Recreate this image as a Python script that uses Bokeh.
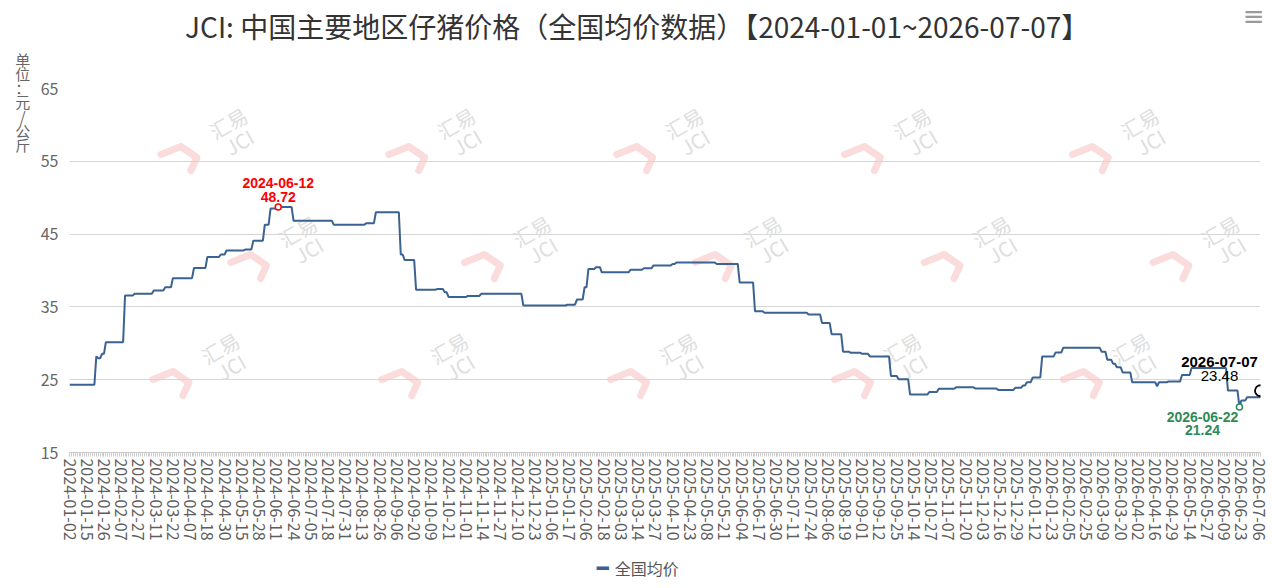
import math
import numpy as np
from bokeh.plotting import figure
from bokeh.models import Range1d, FixedTicker, Label
from bokeh.embed import file_html
from bokeh.resources import INLINE

# ---------------- data ----------------
title_text = "JCI: 中国主要地区仔猪价格（全国均价数据）【2024-01-01~2026-07-07】"
y_unit_text = "单\n位\n：\n元\n/\n公\n斤"
series_name = "全国均价"

tick_labels = [
    "2024-01-02", "2024-01-15", "2024-01-26", "2024-02-07", "2024-02-27", "2024-03-11", "2024-03-22",
    "2024-04-07", "2024-04-18", "2024-04-30", "2024-05-15", "2024-05-28", "2024-06-11", "2024-06-24",
    "2024-07-05", "2024-07-18", "2024-07-31", "2024-08-13", "2024-08-26", "2024-09-06", "2024-09-20",
    "2024-10-09", "2024-10-21", "2024-11-01", "2024-11-14", "2024-11-27", "2024-12-10", "2024-12-23",
    "2025-01-06", "2025-01-17", "2025-02-06", "2025-02-18", "2025-03-03", "2025-03-14", "2025-03-27",
    "2025-04-10", "2025-04-23", "2025-05-08", "2025-05-21", "2025-06-04", "2025-06-17", "2025-06-30",
    "2025-07-11", "2025-07-24", "2025-08-06", "2025-08-19", "2025-09-01", "2025-09-12", "2025-09-25",
    "2025-10-14", "2025-10-27", "2025-11-07", "2025-11-20", "2025-12-03", "2025-12-16", "2025-12-29",
    "2026-01-12", "2026-01-23", "2026-02-05", "2026-02-25", "2026-03-09", "2026-03-20", "2026-04-02",
    "2026-04-16", "2026-04-29", "2026-05-14", "2026-05-27", "2026-06-09", "2026-06-23", "2026-07-06",
]
label_every = 9          # one tick label every 9 data days
n_points = 623           # data days 2024-01-02 .. 2026-07-07

# price holds from step_start[i] (data-day index) until the next start
step_start = [0, 14, 15, 17, 19, 29, 34, 44, 50, 54, 65, 72, 79, 82, 92, 96, 102, 105, 109, 117,
              138, 155, 160, 173, 175, 181, 192, 196, 198, 208, 215, 237, 260, 265, 269, 271, 275, 278, 293, 300,
              305, 315, 317, 338, 350, 358, 363, 386, 393, 398, 404, 408, 414, 418, 429, 433, 439, 449, 454, 463,
              473, 485, 494, 498, 500, 503, 508, 515, 519, 539, 542, 545, 547, 550, 555, 568, 569, 574, 581, 586,
              605, 611, 612, 615]
step_value = [24.3, 28.2, 27.95, 28.55, 30.15, 36.55, 36.8, 37.25, 37.7, 38.95, 40.35, 41.85, 42.2, 42.75, 42.9,
              44.1, 46.3, 48.5, 48.72, 46.85, 46.3, 46.5, 48.0, 42.2, 41.45, 37.35, 37.45, 37.0, 36.35, 36.5,
              36.8, 35.2, 35.3, 36.0, 37.7, 40.2, 40.45, 39.75, 40.1, 40.3, 40.7, 40.9, 41.1, 40.9, 38.35,
              34.4, 34.2, 33.95, 32.8, 31.25, 28.85, 28.7, 28.55, 28.2, 25.5, 25.05, 22.95, 23.3, 23.75, 23.95,
              23.8, 23.6, 23.9, 24.2, 24.65, 25.3, 28.2, 28.75, 29.4, 28.85, 27.75, 27.2, 26.7, 26.0, 24.65,
              24.1, 24.65, 24.75, 25.65, 26.6, 23.5, 21.24, 22.15, 22.6]

max_date, max_idx, max_value = "2024-06-12", 109, 48.72
min_date, min_idx, min_value = "2026-06-22", 611, 21.24
last_date, last_idx, last_value = "2026-07-07", 622, 23.48

y_ticks = [15, 25, 35, 45, 55, 65]
# watermark logo centres (canvas pixels)
watermark_rows = [(132, [228, 457, 686, 915, 1144]),
                  (240, [298, 533, 765, 995, 1225]),
                  (357, [220, 450, 680, 905, 1135])]
hook_shape = [(-73, 22), (-53, 14), (-37, 25), (-43, 38)]   # pink hook, offsets from logo centre

# ---------------- build ----------------
x_idx = np.arange(n_points)
y_val = np.repeat(np.array(step_value), np.diff(step_start + [n_points]))

W, H = 1270, 584
ML, MR, MT, MB = 63, 10, 88, 132
p = figure(width=W, height=H, output_backend="svg", toolbar_location=None,
           x_range=Range1d(0, n_points - 1), y_range=Range1d(y_ticks[0], y_ticks[-1]),
           min_border_left=ML, min_border_right=MR, min_border_top=MT, min_border_bottom=MB,
           background_fill_color="white", border_fill_color="white")
p.outline_line_color = None

frame_w = W - ML - MR
frame_h = H - MT - MB
def fx(px):  # canvas-pixel x -> data x
    return (px - ML) * (n_points - 1) / frame_w
def fy(py):  # canvas-pixel y -> data y
    return y_ticks[0] + (MT + frame_h - py) * (y_ticks[-1] - y_ticks[0]) / frame_h

# axes
p.xaxis.ticker = FixedTicker(ticks=list(range(0, len(tick_labels) * label_every, label_every)),
                             minor_ticks=list(range(n_points)))
p.xaxis.major_label_overrides = {i * label_every: t for i, t in enumerate(tick_labels)}
p.xaxis.major_label_orientation = -math.pi / 2
p.xaxis.major_label_text_font = "Noto Sans CJK SC"
p.xaxis.major_label_text_font_size = "16px"
p.xaxis.major_label_text_color = "#5e5e5e"
p.xaxis.major_label_standoff = 2
p.xaxis.axis_line_color = "#cccccc"
p.xaxis.major_tick_line_color = "#cccccc"
p.xaxis.minor_tick_line_color = "#cccccc"
p.xaxis.major_tick_in = 0
p.xaxis.major_tick_out = 4
p.xaxis.minor_tick_in = 0
p.xaxis.minor_tick_out = 4

p.yaxis.ticker = FixedTicker(ticks=y_ticks)
p.yaxis.axis_line_color = None
p.yaxis.major_tick_line_color = None
p.yaxis.minor_tick_line_color = None
p.yaxis.major_label_text_font = "Noto Sans CJK SC"
p.yaxis.major_label_text_font_size = "16px"
p.yaxis.major_label_text_color = "#666666"
p.yaxis.major_label_standoff = 5

p.xgrid.visible = False
p.ygrid.grid_line_color = "#d6d6d6"
p.ygrid.grid_line_width = 1

# watermarks (faint logo: pink hook + rotated text)
hook_xs, hook_ys = [], []
for wy, xs in watermark_rows:
    for wx in xs:
        hook_xs.append([fx(wx + dx) for dx, dy in hook_shape])
        hook_ys.append([fy(wy + dy) for dx, dy in hook_shape])
        p.add_layout(Label(x=fx(wx), y=fy(wy), text="汇易\nJCI", angle=math.pi / 6,
                           text_align="center", text_baseline="middle",
                           text_font="Noto Sans CJK SC", text_font_style="normal",
                           text_font_size="20px", text_color="#dedede", text_line_height=0.75,
                           level="underlay"))
p.multi_line(hook_xs, hook_ys, line_color="#fadcdc", line_width=7, line_join="round",
             line_cap="round", level="underlay")

# series
r = p.line(x_idx, y_val, line_color="#3a6292", line_width=2)

# mark points
p.scatter([max_idx], [max_value], marker="circle", size=6, fill_color="white",
          line_color="#ff0000", line_width=1.5)
p.scatter([min_idx], [min_value], marker="circle", size=6, fill_color="white",
          line_color="#2e8b57", line_width=1.5)
p.scatter([last_idx], [last_value], marker="circle", size=11, fill_color=None,
          line_color="#000000", line_width=1.8)

def ann(x, y, text, dx, dy, color, size, bold=True):
    p.add_layout(Label(x=x, y=y, text=text, x_offset=dx, y_offset=dy,
                       text_align="center", text_baseline="middle",
                       text_font="Liberation Sans", text_font_style="bold" if bold else "normal",
                       text_font_size=size, text_color=color))

ann(max_idx, max_value, max_date, 0, 24, "#ff0000", "14px")
ann(max_idx, max_value, f"{max_value:.2f}", 0, 10, "#ff0000", "14px")
ann(min_idx, min_value, min_date, -37, -10, "#2e8b57", "14px")
ann(min_idx, min_value, f"{min_value:.2f}", -37, -23, "#2e8b57", "14px")
ann(last_idx, last_value, last_date, -41, 29, "#000000", "15px")
ann(last_idx, last_value, f"{last_value:.2f}", -41, 15, "#000000", "15px", bold=False)

# texts outside the frame sit in side panels (not clipped); data coords keep them in place
p.add_layout(Label(x=fx(633.5), y=fy(25), text=title_text, text_align="center", text_baseline="middle",
                   text_font="Noto Sans CJK SC", text_font_size="28px", text_color="#333333"), "above")
p.add_layout(Label(x=fx(593), y=fy(567), text="━", text_align="left", text_baseline="middle",
                   text_font="DejaVu Sans", text_font_size="20px", text_color="#3a6292"), "above")
p.add_layout(Label(x=fx(16), y=fy(48), text=y_unit_text, text_align="center", text_baseline="top",
                   text_font="Noto Sans CJK SC", text_font_size="15px", text_color="#666666",
                   text_line_height=0.68), "left")
p.add_layout(Label(x=fx(1253), y=fy(15), text="≡", text_align="center", text_baseline="middle",
                   text_font="DejaVu Sans", text_font_size="26px", text_color="#9a9a9a"), "left")
p.add_layout(Label(x=fx(611), y=fy(567), text=series_name, text_align="left", text_baseline="middle",
                   text_font="Noto Sans CJK SC", text_font_size="16px", text_color="#555555"), "below")

open("out.html", "w").write(file_html(p, INLINE))
